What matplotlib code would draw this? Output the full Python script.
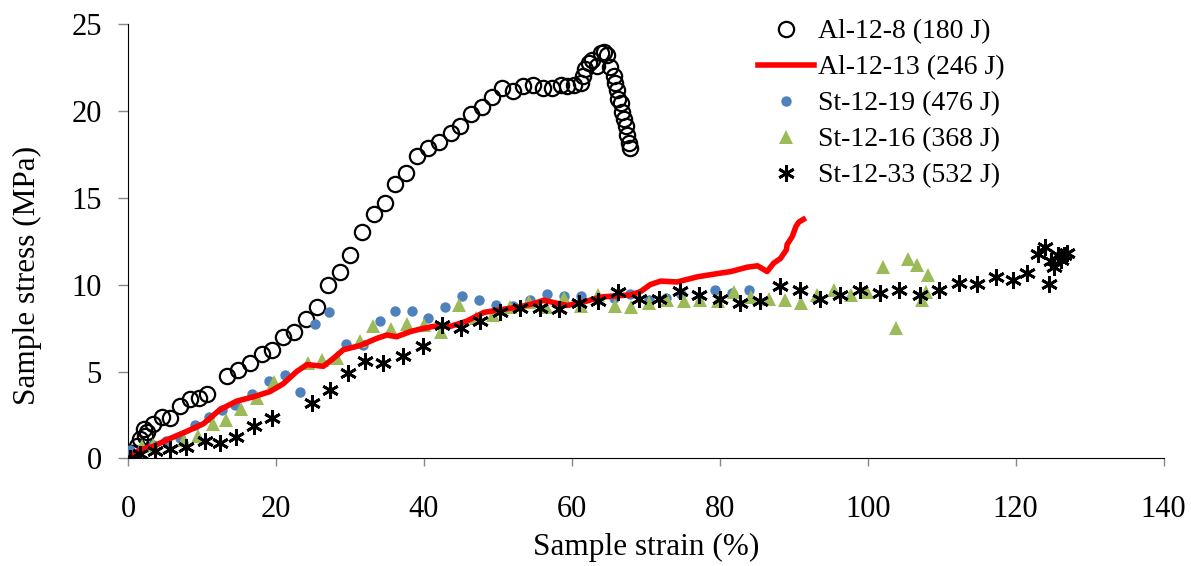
import matplotlib
matplotlib.use("Agg")
import matplotlib.pyplot as plt
import numpy as np

# Al-12-8 (180 J) open circles
al8_x = [0.5, 1.2, 1.6, 2.1, 2.3, 2.5, 3.4, 4.6, 5.7, 7.0, 8.4, 9.6, 10.7, 13.4, 14.9, 16.5, 18.1, 19.4,
         20.9, 22.5, 24.0, 25.6, 27.1, 28.6, 30.0, 31.6, 33.2, 34.7, 36.1, 37.6, 39.1, 40.6, 42.1, 43.6,
         44.9, 46.4, 47.9, 49.2, 50.6, 52.1, 53.4, 54.8, 56.1, 57.3, 58.6, 59.4, 60.3, 61.2, 61.5, 61.8,
         62.3, 62.7, 63.4, 63.9, 64.3, 64.8, 65.2, 65.7, 65.9, 66.1, 66.3, 66.6, 66.8, 67.0, 67.3, 67.5,
         67.7, 67.9]
al8_y = [0.3, 0.7, 1.1, 1.7, 1.3, 1.5, 2.0, 2.4, 2.3, 3.0, 3.4, 3.5, 3.7, 4.75, 5.1, 5.5, 6.0, 6.25,
         7.0, 7.3, 8.0, 8.7, 10.0, 10.75, 11.7, 13.05, 14.05, 14.7, 15.8, 16.4, 17.4, 17.85, 18.2, 18.7,
         19.1, 19.8, 20.2, 20.8, 21.3, 21.15, 21.4, 21.5, 21.3, 21.3, 21.5, 21.4, 21.5, 21.6, 22.0, 22.4,
         22.75, 22.9, 22.55, 23.3, 23.4, 23.2, 22.5, 22.0, 21.6, 21.2, 20.7, 20.45, 19.95, 19.5, 19.1, 18.6,
         18.15, 17.85]

# Al-12-13 (246 J) red line
al13_x = [0.0, 1.6, 3.4, 5.7, 7.9, 10.2, 12.4, 14.7, 17.0, 19.2, 21.0, 22.8, 24.2, 26.4, 27.8, 29.1,
          31.4, 33.6, 35.0, 36.3, 38.2, 39.5, 41.3, 43.6, 45.8, 48.1, 50.3, 52.6, 54.8, 56.2, 57.5,
          59.4, 61.6, 63.9, 66.1, 67.9, 69.3, 70.6, 72.0, 74.2, 77.0, 79.2, 81.5, 83.7, 85.1, 86.4,
          87.3, 88.2, 89.0, 89.1, 89.8, 90.3, 90.7, 91.3]
al13_y = [0.0, 0.5, 0.7, 1.15, 1.55, 2.0, 2.8, 3.3, 3.55, 3.85, 4.3, 5.0, 5.4, 5.3, 5.77, 6.25,
          6.5, 6.9, 7.1, 7.0, 7.3, 7.44, 7.6, 7.6, 7.9, 8.4, 8.55, 8.7, 8.9, 9.1, 8.97,
          8.8, 9.0, 9.28, 9.36, 9.4, 9.6, 10.0, 10.2, 10.15, 10.45, 10.6, 10.75, 11.0, 11.08, 10.75,
          11.24, 11.5, 12.0, 12.3, 12.77, 13.35, 13.6, 13.75]

# St-12-19 (476 J) blue dots
st19_x = [0.3, 3.4, 5.2, 7.0, 9.1, 10.9, 12.7, 14.5, 16.7, 19.0, 21.2, 23.3, 25.3, 27.2, 29.5, 31.8,
          34.0, 36.1, 38.4, 40.6, 42.9, 45.2, 47.5, 49.8, 52.1, 54.4, 56.7, 58.9, 61.3, 65.7, 67.9,
          70.4, 72.7, 74.8, 79.4, 81.7, 83.9]
st19_y = [0.5, 0.8, 1.0, 1.2, 1.9, 2.4, 2.8, 3.1, 3.7, 4.46, 4.8, 3.8, 7.74, 8.45, 6.6, 6.5,
          7.9, 8.5, 8.5, 8.1, 8.7, 9.35, 9.1, 8.84, 8.78, 9.13, 9.45, 9.35, 9.35, 9.2, 9.47,
          9.13, 9.22, 9.47, 9.7, 9.5, 9.7]

# St-12-16 (368 J) green triangles
st16_x = [1.9, 3.4, 7.5, 9.4, 11.5, 13.3, 15.3, 17.4, 19.8, 24.3, 26.2, 28.3, 31.4, 33.1, 35.5, 37.7,
          40.0, 42.3, 44.7, 47.0, 49.4, 51.7, 54.2, 56.5, 58.9, 61.2, 63.5, 65.8, 68.0, 70.4, 72.8,
          75.1, 77.3, 79.7, 81.9, 84.2, 86.6, 88.8, 91.0, 93.2, 95.4, 97.7, 99.9, 102.0, 103.8, 105.4,
          106.6, 108.2, 107.9, 107.4]
st16_y = [0.7, 0.78, 1.06, 1.3, 2.0, 2.2, 2.83, 3.46, 4.4, 5.48, 5.67, 5.8, 6.76, 7.6, 7.44, 7.75,
          7.7, 7.25, 8.84, 8.07, 8.26, 8.7, 8.97, 8.7, 9.22, 8.74, 9.4, 8.78, 8.7, 8.93, 9.1,
          9.08, 9.13, 9.03, 9.6, 9.3, 9.17, 9.1, 8.93, 9.4, 9.7, 9.4, 9.55, 11.04, 7.5, 11.5,
          11.1, 10.56, 9.6, 9.13]

# St-12-33 (532 J) black asterisks
st33_x = [0.3, 1.6, 3.7, 5.7, 7.9, 10.4, 12.4, 14.6, 17.0, 19.4, 24.9, 27.3, 29.7, 32.1, 34.5, 37.2,
          39.9, 42.4, 45.0, 47.6, 50.3, 53.0, 55.7, 58.3, 60.9, 63.6, 66.3, 69.1, 71.8, 74.6, 77.2,
          80.0, 82.7, 85.4, 88.1, 90.8, 93.5, 96.3, 98.9, 101.7, 104.2, 107.1, 109.6, 112.3, 114.8,
          117.4, 119.7, 121.5, 123.0, 124.0, 124.5, 124.8, 125.2, 125.7, 126.1, 126.6, 127.0]
st33_y = [0.0, 0.26, 0.45, 0.53, 0.64, 1.0, 0.9, 1.26, 1.87, 2.35, 3.2, 3.94, 4.94, 5.63, 5.5, 5.9,
          6.48, 7.69, 7.5, 7.88, 8.45, 8.64, 8.64, 8.59, 8.93, 9.08, 9.55, 9.16, 9.16, 9.63, 9.38,
          9.16, 8.93, 9.07, 9.89, 9.66, 9.16, 9.41, 9.66, 9.51, 9.7, 9.41, 9.7, 10.08, 10.04,
          10.43, 10.28, 10.66, 11.77, 12.16, 10.05, 11.33, 11.04, 11.7, 11.43, 11.7, 11.8]

labels = ["Al-12-8 (180 J)", "Al-12-13 (246 J)", "St-12-19 (476 J)", "St-12-16 (368 J)", "St-12-33 (532 J)"]

plt.rcParams['font.family'] = ['Liberation Serif', 'DejaVu Serif']
fig = plt.figure(figsize=(11.91, 5.66), dpi=100)
ax = fig.add_axes([0.1075, 0.19, 0.8695, 0.768])

ax.plot(al8_x, al8_y, linestyle='none', marker='o', markersize=11, markerfacecolor='none',
        markeredgecolor='black', markeredgewidth=1.6, label=labels[0], zorder=3)
ax.plot(al13_x, al13_y, color='#FF0000', linewidth=4, label=labels[1], zorder=4)
ax.plot(st19_x, st19_y, linestyle='none', marker='o', markersize=7.5, color='#4F81BD',
        markeredgewidth=0, label=labels[2], zorder=3)
ax.plot(st16_x, st16_y, linestyle='none', marker='^', markersize=10, color='#9BBB59',
        markeredgewidth=0, label=labels[3], zorder=3)
ax.plot(st33_x, st33_y, linestyle='none', marker=(6, 2, 0), markersize=12, color='black',
        markeredgewidth=2.0, label=labels[4], zorder=5)

ax.set_xlim(0, 140)
ax.set_ylim(0, 25)
ax.set_xticks(np.arange(0, 141, 20))
ax.set_yticks(np.arange(0, 26, 5))
ax.tick_params(axis='both', labelsize=22, direction='out', color='#888888', width=1)
ax.tick_params(axis='x', length=6, pad=20)
ax.tick_params(axis='y', length=7, pad=12)
ax.spines['top'].set_visible(False)
ax.spines['right'].set_visible(False)
ax.set_xlabel('Sample strain (%)', fontsize=22.5, labelpad=7)
ax.set_ylabel('Sample stress (MPa)', fontsize=22.5)
ax.yaxis.set_label_coords(-0.083, 0.42)

leg = ax.legend(loc='upper left', bbox_to_anchor=(747 / 1191, 1 - 8 / 566), bbox_transform=fig.transFigure,
                frameon=False, fontsize=20, handlelength=2.0, handletextpad=0.15, labelspacing=0.38,
                borderaxespad=0)

fig.savefig('out.png', dpi=100)
